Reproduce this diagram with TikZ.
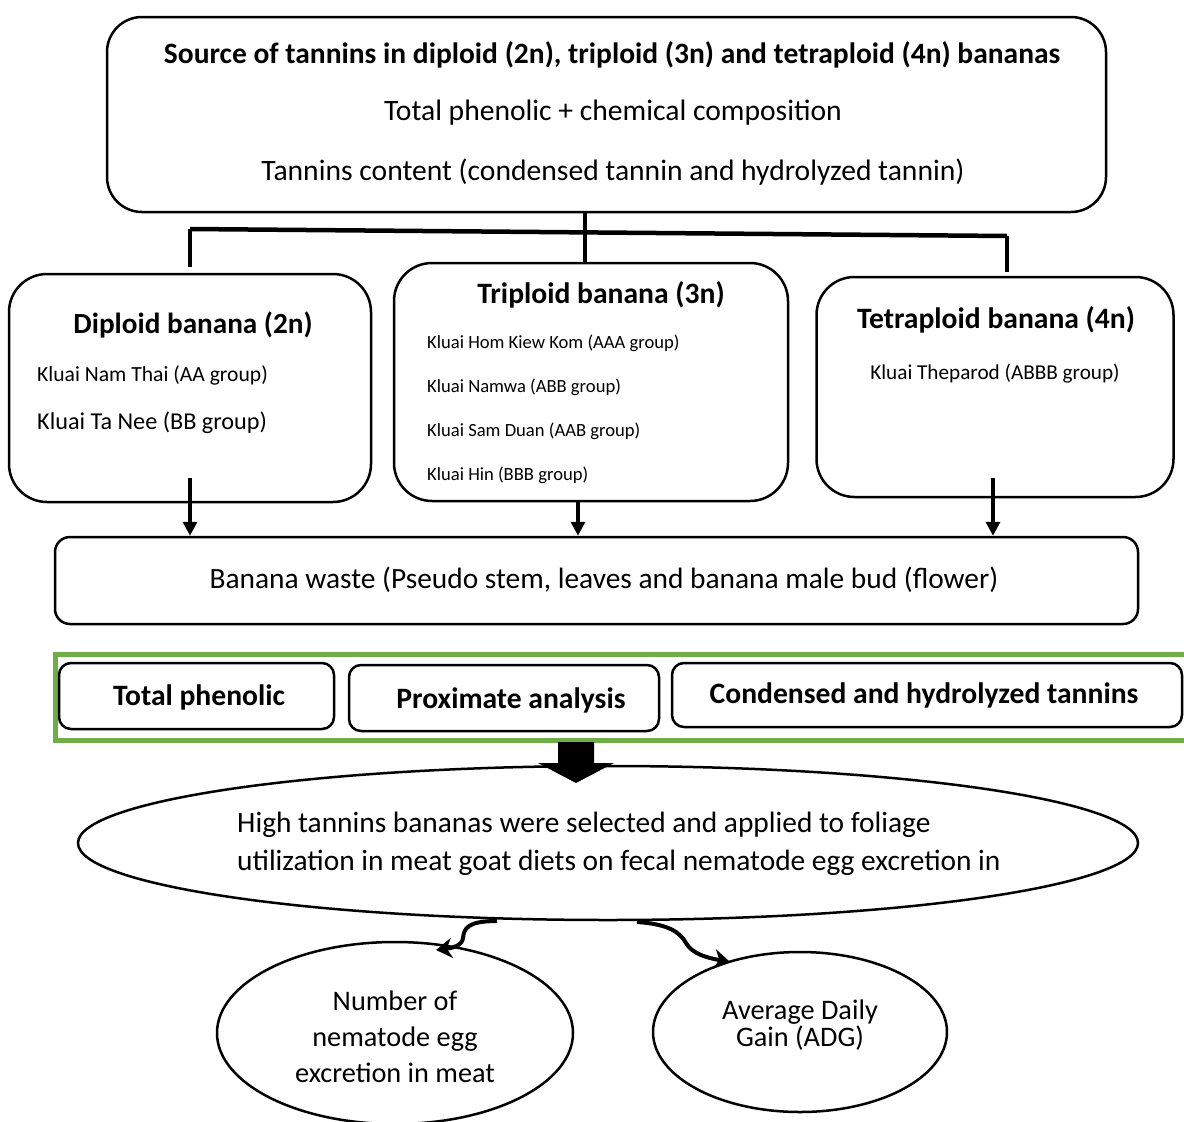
\documentclass[tikz,border=0pt]{standalone}
\usepackage{fontspec}
\setmainfont{Carlito}
\usetikzlibrary{shapes.geometric,arrows.meta}
\newcommand{\fs}[1]{\fontsize{#1}{#1}\selectfont}
\begin{document}
\begin{tikzpicture}[x=1pt,y=-1pt,
  box/.style={draw,line width=2.5pt,rounded corners=#1,inner sep=0pt},
  box/.default=38pt,
  txt/.style={inner sep=0pt,anchor=center},
  conn/.style={line width=4.5pt},
  arr/.style={line width=4.5pt,-{Triangle[width=14pt,length=14pt]}},
  curly/.style={line width=4pt,-{Stealth[width=20pt,length=16pt]}},
  oval/.style={draw,ellipse,line width=2.5pt,inner sep=0pt}]
\useasboundingbox (0,0) rectangle (1184,1122);
% top box
\node[box=35pt,minimum width=999pt,minimum height=195pt] (top) at (606.5,114.5) {};
\node[txt,font=\fs{29.5}\bfseries] (t1) at (612,55) {Source of tannins in diploid (2n), triploid (3n) and tetraploid (4n) bananas};
\node[txt,font=\fs{29.6}] (t2) at (613,113) {Total phenolic + chemical composition};
\node[txt,font=\fs{29.6}] (t3) at (613,172) {Tannins content (condensed tannin and hydrolyzed tannin)};
% three boxes
\node[box,minimum width=362pt,minimum height=228pt] (dip) at (190,388) {};
\node[box,minimum width=394pt,minimum height=238pt] (tri) at (591,382) {};
\node[box,minimum width=357pt,minimum height=220pt] (tet) at (995,387) {};
\node[txt,font=\fs{29.2}\bfseries] (dipT) at (193,325) {Diploid banana (2n)};
\node[txt,font=\fs{21.6},anchor=west] (dip1) at (37,375) {Kluai Nam Thai (AA group)};
\node[txt,font=\fs{24.2},anchor=west] (dip2) at (37,423) {Kluai Ta Nee (BB group)};
\node[txt,font=\fs{29.6}\bfseries] (triT) at (601,295) {Triploid banana (3n)};
\node[txt,font=\fs{18.6},anchor=west] (tri1) at (427,343) {Kluai Hom Kiew Kom (AAA group)};
\node[txt,font=\fs{18.6},anchor=west] (tri2) at (427,387) {Kluai Namwa (ABB group)};
\node[txt,font=\fs{18.6},anchor=west] (tri3) at (427,431) {Kluai Sam Duan (AAB group)};
\node[txt,font=\fs{18.6},anchor=west] (tri4) at (427,475) {Kluai Hin (BBB group)};
\node[txt,font=\fs{29.6}\bfseries] (tetT) at (996,320) {Tetraploid banana (4n)};
\node[txt,font=\fs{21.2}] (tet1) at (995,374) {Kluai Theparod (ABBB group)};
% connectors top
\coordinate (barL) at (190,229);
\coordinate (barR) at (1007,236);
\coordinate (barM) at (585,232.5);
\draw[conn] (barM |- top.south) -- (barM |- tri.north);
\draw[conn] (barL) -- (barR);
\draw[conn] (barL) -- ([yshift=6pt]barL |- dip.north);
\draw[conn] (barR) -- ([yshift=4pt]barR |- tet.north);
% waste
\node[box=15pt,minimum width=1083pt,minimum height=87pt] (waste) at (596.5,580.5) {};
\node[txt,font=\fs{29.4}] (wasteT) at (604,580) {Banana waste (Pseudo stem, leaves and banana male bud (flower)};
\coordinate (dA) at (190,478);
\coordinate (tA) at (578,500);
\coordinate (teA) at (993,478);
\draw[arr] (dA) -- (dA |- waste.north);
\draw[arr] (tA) -- (tA |- waste.north);
\draw[arr] (teA) -- (teA |- waste.north);
% green frame
\definecolor{grn}{RGB}{112,173,71}
\node[draw=grn,line width=5pt,minimum width=1150pt,minimum height=86pt,inner sep=0pt] (green) at (630,697) {};
\node[box=12pt,minimum width=275pt,minimum height=66pt] (b1) at (196.5,696) {};
\node[box=12pt,minimum width=310pt,minimum height=66pt] (b2) at (504,698) {};
\node[box=12pt,minimum width=510pt,minimum height=64pt] (b3) at (927,695) {};
\node[txt,font=\fs{29.6}\bfseries] (b1T) at (199,697) {Total phenolic};
\node[txt,font=\fs{29.6}\bfseries] (b2T) at (511,700) {Proximate analysis};
\node[txt,font=\fs{29.6}\bfseries] (b3T) at (924,695) {Condensed and hydrolyzed tannins};
% block arrow
\fill (558,742) -- (594,742) -- (594,763) -- (614,763) -- (576,783) -- (538,763) -- (558,763) -- cycle;
% ellipse
\node[oval,minimum width=1060pt,minimum height=154pt] (ell) at (608,843) {};
\node[txt,font=\fs{29.4},align=left,anchor=west] (ellT) at (237,844) {High tannins bananas were selected and applied to foliage\\[8pt]utilization in meat goat diets on fecal nematode egg excretion in};
% circles
\node[oval,minimum width=356pt,minimum height=182pt] (c1) at (395,1033) {};
\node[oval,minimum width=294pt,minimum height=160pt] (c2) at (800,1032) {};
\node[txt,font=\fontsize{28.3}{36}\selectfont,align=center] (c1T) at (395,1037) {Number of\\nematode egg\\excretion in meat};
\node[txt,font=\fontsize{28.3}{27}\selectfont,align=center] (c2T) at (800,1025) {Average Daily\\Gain (ADG)};
% curly arrows
\coordinate (sL) at (497,921);
\coordinate (eL) at (436,950);
\coordinate (sR) at (637,922);
\coordinate (eR) at (730,962);
\draw[curly] (sL) .. controls (468,921) and (464,928) .. (463,938) .. controls (462,946) and (452,948) .. (eL);
\draw[curly] (sR) .. controls (668,924) and (680,932) .. (686,943) .. controls (692,954) and (708,958) .. (eR);
\end{tikzpicture}
\end{document}
